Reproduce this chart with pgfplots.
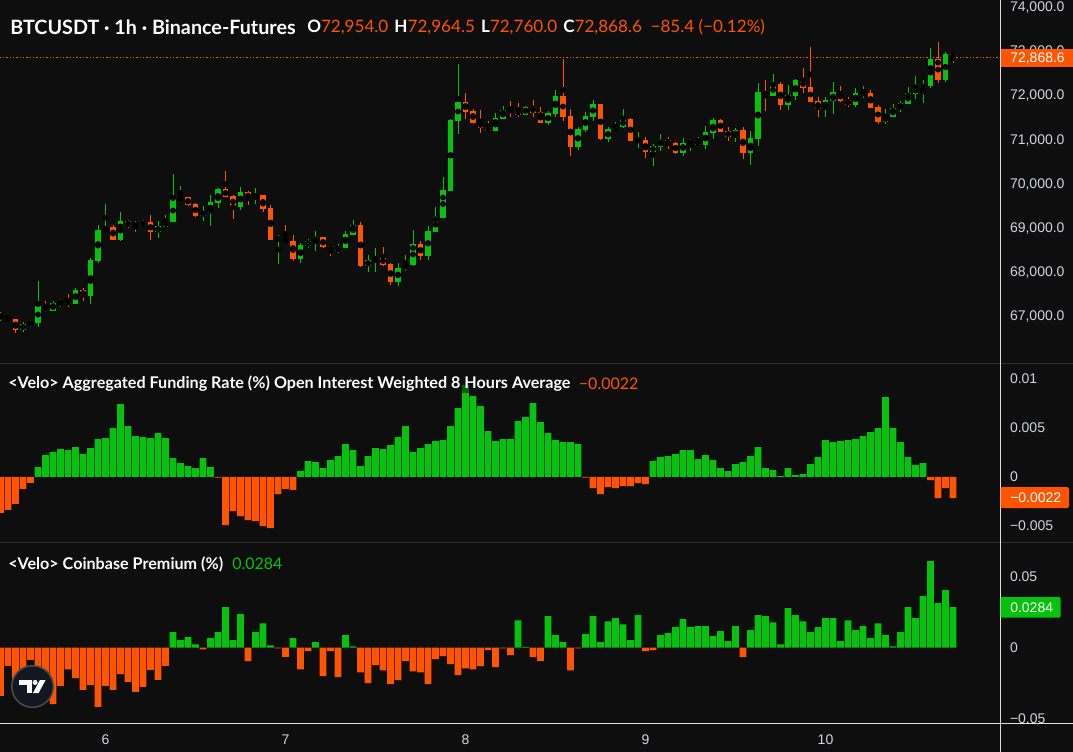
\documentclass[border=0pt]{standalone}
\usepackage{pgfplots}
\pgfplotsset{compat=1.18}
\usepackage{pgfplotstable}
\usepackage{fontspec}
\setmainfont{Lato}
\newfontfamily\tickfont{Liberation Sans}
\definecolor{bgc}{HTML}{0E0E0E}
\definecolor{upc}{HTML}{06C20C}
\definecolor{downc}{HTML}{FF5400}
\definecolor{tickc}{HTML}{D1D4DC}
\definecolor{sepc}{HTML}{2E2E2E}
\definecolor{logoc}{HTML}{131722}

\pgfplotstableread{
k O H L C
-14 66982 67098 66893 66995
-11 66682 66864 66636 66818
-10 66795 66909 66757 66864
-9 66841 67795 66750 67227
-7 67114 67341 67114 67295
-6 67273 67386 67205 67341
-4 67273 67636 67273 67591
-2 67455 68318 67273 68273
-1 68250 69068 68205 68955
0 68932 69545 68932 69023
2 68727 69364 68705 69159
4 69057 69159 68909 69073
5 69045 69182 69023 69136
7 68909 69159 68773 69045
8 69023 69295 69023 69159
9 69136 70227 69136 69659
10 69636 69955 69636 69705
13 69273 69500 69159 69364
14 69341 69750 69045 69591
15 69568 69909 69455 69886
18 69477 69932 69409 69818
20 69659 69909 69545 69750
23 68727 68841 68182 68773
26 68295 68659 68205 68614
27 68591 68750 68545 68705
28 68682 68932 68477 68795
31 68477 68636 68432 68568
32 68545 68932 68545 68864
33 68841 69182 68841 69068
35 68136 68386 68000 68273
36 68250 68545 68000 68341
39 67773 68205 67682 68091
40 68068 68386 68023 68182
41 68159 68955 68136 68636
43 68364 69045 68273 68932
44 68909 69477 68909 69250
45 69227 70159 69227 69864
46 69841 71477 69841 71455
47 71432 72727 71136 71864
52 71205 71614 71205 71500
53 71477 71773 71477 71682
56 71568 71773 71568 71750
59 71386 71659 71341 71614
60 71591 72136 71523 72000
63 70841 71295 70773 71250
64 71227 71636 71182 71545
65 71523 71909 71432 71818
67 71023 71295 70955 71250
68 71227 71409 71205 71318
69 71295 71705 71273 71477
71 70977 71182 70818 71000
73 70727 70909 70409 70864
74 70841 71136 70750 71000
77 70705 71045 70636 70932
78 70909 71023 70750 70977
80 70886 71318 70795 71182
81 71159 71500 71023 71455
84 71068 71273 70955 71227
86 70705 71205 70432 71045
87 71023 72295 70864 72091
89 72000 72500 72000 72273
91 71795 72250 71682 72023
92 72000 72386 71909 72364
96 71705 71977 71523 71909
97 71886 72318 71591 72091
100 71795 72182 71750 72068
101 72045 72227 71955 72068
104 71409 71705 71364 71545
105 71523 71818 71523 71727
106 71705 71886 71636 71841
107 71818 72205 71818 72068
108 72045 72455 71932 72205
109 72182 72364 71841 72250
110 72227 73091 72182 72841
112 72364 73000 72318 72954
}\greencandles

\pgfplotstableread{
k O H L C
-13 66977 67023 66886 66909
-12 66932 66932 66620 66682
-8 67227 67341 67091 67114
-5 67341 67500 67205 67273
-3 67591 67636 67341 67455
1 69023 69068 68727 68727
3 69159 69182 69000 69045
6 69136 69295 68727 68909
11 69705 69705 69500 69523
12 69545 69568 69250 69273
16 69886 70295 69705 69705
17 69727 69750 69205 69477
19 69818 69841 69523 69659
21 69750 69750 69364 69432
22 69455 69523 68727 68727
24 68773 69068 68659 68682
25 68705 68841 68250 68295
29 68795 68795 68545 68568
30 68591 68591 68364 68477
34 69068 69136 68114 68136
37 68341 68568 68136 68159
38 68182 68205 67705 67773
42 68636 68705 68273 68364
48 71864 72068 71477 71636
49 71659 71705 71386 71386
50 71409 71682 71159 71273
51 71295 71432 71205 71205
54 71682 71886 71523 71659
55 71682 71841 71523 71568
57 71750 71909 71523 71614
58 71636 71750 71386 71386
61 72000 72841 71432 71523
62 71545 71705 70636 70841
66 71818 71818 71000 71023
70 71477 71500 70977 70977
72 71000 71068 70591 70727
75 71000 71068 70795 70909
76 70932 70955 70682 70705
79 70977 71068 70886 70886
82 71455 71477 71182 71182
83 71205 71295 70977 71068
85 71227 71295 70568 70705
88 72091 72364 71659 72000
90 72273 72318 71682 71795
93 72364 72636 72068 72182
94 72205 73114 71864 71864
95 71886 71977 71523 71705
98 72091 72227 71864 71886
99 71909 71977 71750 71795
102 72068 72136 71727 71727
103 71750 71795 71364 71409
111 72841 73227 72295 72364
113 72954 72964.5 72760 72868.6
}\redcandles

\pgfplotstableread{
k v
-14 -0.00367
-13 -0.00337
-12 -0.00276
-11 -0.00122
-10 -0.00061
-9 0.00099
-8 0.00221
-7 0.00252
-6 0.00282
-5 0.00272
-4 0.00303
-3 0.00231
-2 0.00293
-1 0.00384
0 0.00395
1 0.00497
2 0.00741
3 0.00517
4 0.00415
5 0.00405
6 0.00395
7 0.00446
8 0.00395
9 0.00190
10 0.00139
11 0.00109
12 0.00088
13 0.00190
14 0.00099
15 -0.00007
16 -0.00493
17 -0.00350
18 -0.00401
19 -0.00442
20 -0.00452
21 -0.00503
22 -0.00524
23 -0.00177
24 -0.00122
25 -0.00133
26 0.00058
27 0.00160
28 0.00150
29 0.00088
30 0.00170
31 0.00211
32 0.00333
33 0.00272
34 0.00109
35 0.00211
36 0.00293
37 0.00282
38 0.00323
39 0.00405
40 0.00517
41 0.00252
42 0.00293
43 0.00333
44 0.00364
45 0.00374
46 0.00517
47 0.00701
48 0.00935
49 0.00823
50 0.00721
51 0.00466
52 0.00364
53 0.00384
54 0.00384
55 0.00568
56 0.00609
57 0.00752
58 0.00558
59 0.00446
60 0.00374
61 0.00354
62 0.00354
63 0.00333
64 -0.00007
65 -0.00116
66 -0.00177
67 -0.00105
68 -0.00116
69 -0.00095
70 -0.00095
71 -0.00065
72 -0.00075
73 0.00160
74 0.00201
75 0.00211
76 0.00231
77 0.00272
78 0.00272
79 0.00180
80 0.00221
81 0.00170
82 0.00088
83 0.00058
84 0.00129
85 0.00150
86 0.00211
87 0.00303
88 0.00088
89 0.00068
90 0.00007
91 0.00088
92 0.00017
93 0.00027
94 0.00129
95 0.00201
96 0.00374
97 0.00354
98 0.00364
99 0.00374
100 0.00384
101 0.00415
102 0.00456
103 0.00497
104 0.00813
105 0.00497
106 0.00354
107 0.00201
108 0.00119
109 0.00139
110 -0.00034
111 -0.00218
112 -0.00116
113 -0.00218
}\funding

\pgfplotstableread{
k v
-14 -0.0340
-13 -0.0129
-12 -0.0300
-11 -0.0350
-10 -0.0087
-9 -0.0220
-8 -0.0300
-7 -0.0399
-6 -0.0270
-5 -0.0153
-4 -0.0216
-3 -0.0298
-2 -0.0265
-1 -0.0418
0 -0.0270
1 -0.0298
2 -0.0188
3 -0.0242
4 -0.0312
5 -0.0277
6 -0.0157
7 -0.0228
8 -0.0129
9 0.0108
10 0.0052
11 0.0073
12 0.0023
13 -0.0012
14 0.0066
15 0.0108
16 0.0284
17 0.0052
18 0.0235
19 -0.0096
20 0.0108
21 0.0171
22 0.0016
23 -0.0005
24 -0.0066
25 0.0066
26 -0.0153
27 -0.0026
28 0.0038
29 -0.0202
30 -0.0026
31 -0.0209
32 0.0087
33 0.0009
34 -0.0174
35 -0.0251
36 -0.0124
37 -0.0160
38 -0.0258
39 -0.0230
40 -0.0096
41 -0.0167
42 -0.0174
43 -0.0258
44 -0.0082
45 -0.0061
46 -0.0117
47 -0.0195
48 -0.0146
49 -0.0153
50 -0.0131
51 -0.0019
52 -0.0138
53 -0.0005
54 -0.0054
55 0.0192
56 0.0005
57 -0.0068
58 -0.0096
59 0.0221
60 0.0087
61 0.0038
62 -0.0160
63 -0.0005
64 0.0094
65 0.0221
66 0.0038
67 0.0185
68 0.0207
69 0.0164
70 0.0052
71 0.0228
72 -0.0026
73 -0.0019
74 0.0087
75 0.0101
76 0.0143
77 0.0200
78 0.0143
79 0.0150
80 0.0150
81 0.0080
82 0.0115
83 0.0045
84 0.0150
85 -0.0068
86 0.0122
87 0.0228
88 0.0221
89 0.0178
90 0.0023
91 0.0277
92 0.0228
93 0.0185
94 0.0108
95 0.0143
96 0.0207
97 0.0207
98 0.0045
99 0.0192
100 0.0122
101 0.0150
102 0.0066
103 0.0171
104 0.0087
105 0.0009
106 0.0108
107 0.0284
108 0.0207
109 0.0362
110 0.0608
111 0.0312
112 0.0404
113 0.0284
}\premium

\pgfplotsset{
  panel/.style={
    scale only axis, width=750.375pt, xmin=-14.067, xmax=119.333,
    anchor=north west,
    axis line style={draw=none}, tick style={draw=none},
    major tick length=0pt,
    scaled y ticks=false, scaled x ticks=false,
    yticklabel pos=right,
    yticklabel style={anchor=west, xshift=3.6pt, font=\tickfont\fontsize{10.5}{12}\selectfont, text=tickc},
    xticklabel style={font=\tickfont\fontsize{10.5}{12}\selectfont, text=tickc},
    clip=true,
  },
  candlewick/.style={only marks, mark=none, error bars/.cd, y dir=both, y explicit, error mark=none,
    error bar style={line width=0.75pt, draw=#1}},
  candlebody/.style={only marks, mark=none, error bars/.cd, y dir=both, y explicit, error mark=none,
    error bar style={line width=4.1pt, draw=#1}},
}

\begin{document}
\begin{tikzpicture}
\useasboundingbox (0,0) rectangle (804.75pt,-564pt);
\clip (0,0) rectangle (804.75pt,-564pt);
\fill[bgc] (0,0) rectangle (804.75pt,-564pt);

% price panel
\begin{axis}[panel, at={(0pt,0pt)}, height=272.5pt,
  ymin=65925, ymax=74181.8, xtick=\empty,
  ytick={67000,68000,69000,70000,71000,72000,73000,74000},
  yticklabels={{67,000.0},{68,000.0},{69,000.0},{70,000.0},{71,000.0},{72,000.0},{73,000.0},{74,000.0}}]
\draw[downc, line width=0.75pt, dash pattern=on 0.9pt off 1.6pt] (axis cs:-15,72868.6) -- (axis cs:120,72868.6);
\addplot[candlewick=upc] table[x=k, y expr={(\thisrow{H}+\thisrow{L})/2}, y error expr={(\thisrow{H}-\thisrow{L})/2}] {\greencandles};
\addplot[candlewick=downc] table[x=k, y expr={(\thisrow{H}+\thisrow{L})/2}, y error expr={(\thisrow{H}-\thisrow{L})/2}] {\redcandles};
\addplot[candlebody=upc] table[x=k, y expr={(\thisrow{O}+\thisrow{C})/2}, y error expr={max(abs(\thisrow{C}-\thisrow{O})/2,12)}] {\greencandles};
\addplot[candlebody=downc] table[x=k, y expr={(\thisrow{O}+\thisrow{C})/2}, y error expr={max(abs(\thisrow{C}-\thisrow{O})/2,12)}] {\redcandles};
\end{axis}

% funding panel
\begin{axis}[panel, at={(0pt,-272.5pt)}, height=134.25pt,
  ymin=-0.006684, ymax=0.011582, xtick=\empty,
  ytick={-0.005,0,0.005,0.01},
  yticklabels={{−0.005},{0},{0.005},{0.01}}]
\addplot[ybar, bar width=5.1pt, bar shift=0pt, fill=upc, draw=none, restrict y to domain=0:1] table[x=k, y=v] {\funding};
\addplot[ybar, bar width=5.1pt, bar shift=0pt, fill=downc, draw=none, restrict y to domain=-1:0] table[x=k, y=v] {\funding};
\end{axis}

% premium panel
\begin{axis}[panel, at={(0pt,-406.75pt)}, height=135.75pt,
  ymin=-0.05338, ymax=0.074085,
  ytick={-0.05,0,0.05},
  yticklabels={{−0.05},{0},{0.05}},
  xtick={0,24,48,72,96}, xticklabels={6,7,8,9,10},
  xticklabel style={yshift=-5pt}]
\addplot[ybar, bar width=5.1pt, bar shift=0pt, fill=upc, draw=none, restrict y to domain=0:1] table[x=k, y=v] {\premium};
\addplot[ybar, bar width=5.1pt, bar shift=0pt, fill=downc, draw=none, restrict y to domain=-1:0] table[x=k, y=v] {\premium};
\end{axis}

% separators and frame lines
\draw[sepc, line width=0.9pt] (0,-272.5pt) -- (804.75pt,-272.5pt);
\draw[sepc, line width=0.9pt] (0,-406.75pt) -- (804.75pt,-406.75pt);
\draw[white!88!black, line width=0.75pt] (750.375pt,0) -- (750.375pt,-564pt);
\draw[white!88!black, line width=0.75pt] (0,-542.5pt) -- (804.75pt,-542.5pt);

% price tags
\fill[downc] (750.375pt,-37.1pt) rectangle (804.75pt,-50.25pt);
\node[anchor=west, inner sep=0, text=white, font=\tickfont\fontsize{10.5}{12}\selectfont] at (757.5pt,-43.7pt) {72,868.6};
\fill[downc, rounded corners=1.5pt] (750.375pt,-365.25pt) -- (801.75pt,-365.25pt) -- (801.75pt,-381pt) -- (750.375pt,-381pt) -- cycle;
\node[anchor=west, inner sep=0, text=white, font=\tickfont\fontsize{10.5}{12}\selectfont] at (757.5pt,-373.1pt) {−0.0022};
\fill[upc, rounded corners=1.5pt] (750.375pt,-447.75pt) -- (795.5pt,-447.75pt) -- (795.5pt,-463.3pt) -- (750.375pt,-463.3pt) -- cycle;
\node[anchor=west, inner sep=0, text=white, font=\tickfont\fontsize{10.5}{12}\selectfont] at (757.5pt,-455.5pt) {0.0284};

% titles
\node[anchor=west, inner sep=0, text=white] at (7.5pt,-20.25pt) {\fontsize{14.8}{17}\selectfont\bfseries BTCUSDT · 1h · Binance-Futures};
\node[anchor=west, inner sep=0] at (230.25pt,-20.25pt) {\fontsize{12.8}{15}\selectfont\bfseries
  \textcolor{white}{O}\textcolor{downc}{\mdseries 72,954.0}\hspace{4.6pt}\textcolor{white}{H}\textcolor{downc}{\mdseries 72,964.5}\hspace{4.6pt}\textcolor{white}{L}\textcolor{downc}{\mdseries 72,760.0}\hspace{4.6pt}\textcolor{white}{C}\textcolor{downc}{\mdseries 72,868.6}\hspace{6.5pt}\textcolor{downc}{\mdseries −85.4 (−0.12\%)}};
\node[anchor=west, inner sep=1pt, fill=bgc, fill opacity=0.55, text opacity=1, text=white] at (5pt,-288pt) {\fontsize{12.1}{14}\selectfont\bfseries <Velo> Aggregated Funding Rate (\%) Open Interest Weighted 8 Hours Average};
\node[anchor=west, inner sep=0, text=downc] at (434pt,-288pt) {\fontsize{12}{14}\selectfont −0.0022};
\node[anchor=west, inner sep=1pt, text=white] at (5pt,-423pt) {\fontsize{12.1}{14}\selectfont\bfseries <Velo> Coinbase Premium (\%)};
\node[anchor=west, inner sep=0, text=upc] at (174pt,-423pt) {\fontsize{12}{14}\selectfont 0.0284};

% logo
\fill[logoc, draw=white!30!black, line width=1.1pt] (24.4pt,-514.9pt) circle (15.6pt);
\fill[white] (14.5pt,-510pt) rectangle (23.8pt,-513.8pt);
\fill[white] (20pt,-513.8pt) rectangle (23.8pt,-519.8pt);
\fill[white] (26.3pt,-511.8pt) circle (1.9pt);
\fill[white] (30pt,-510pt) -- (34.2pt,-510pt) -- (28.9pt,-519.8pt) -- (24.7pt,-519.8pt) -- cycle;
\end{tikzpicture}
\end{document}
